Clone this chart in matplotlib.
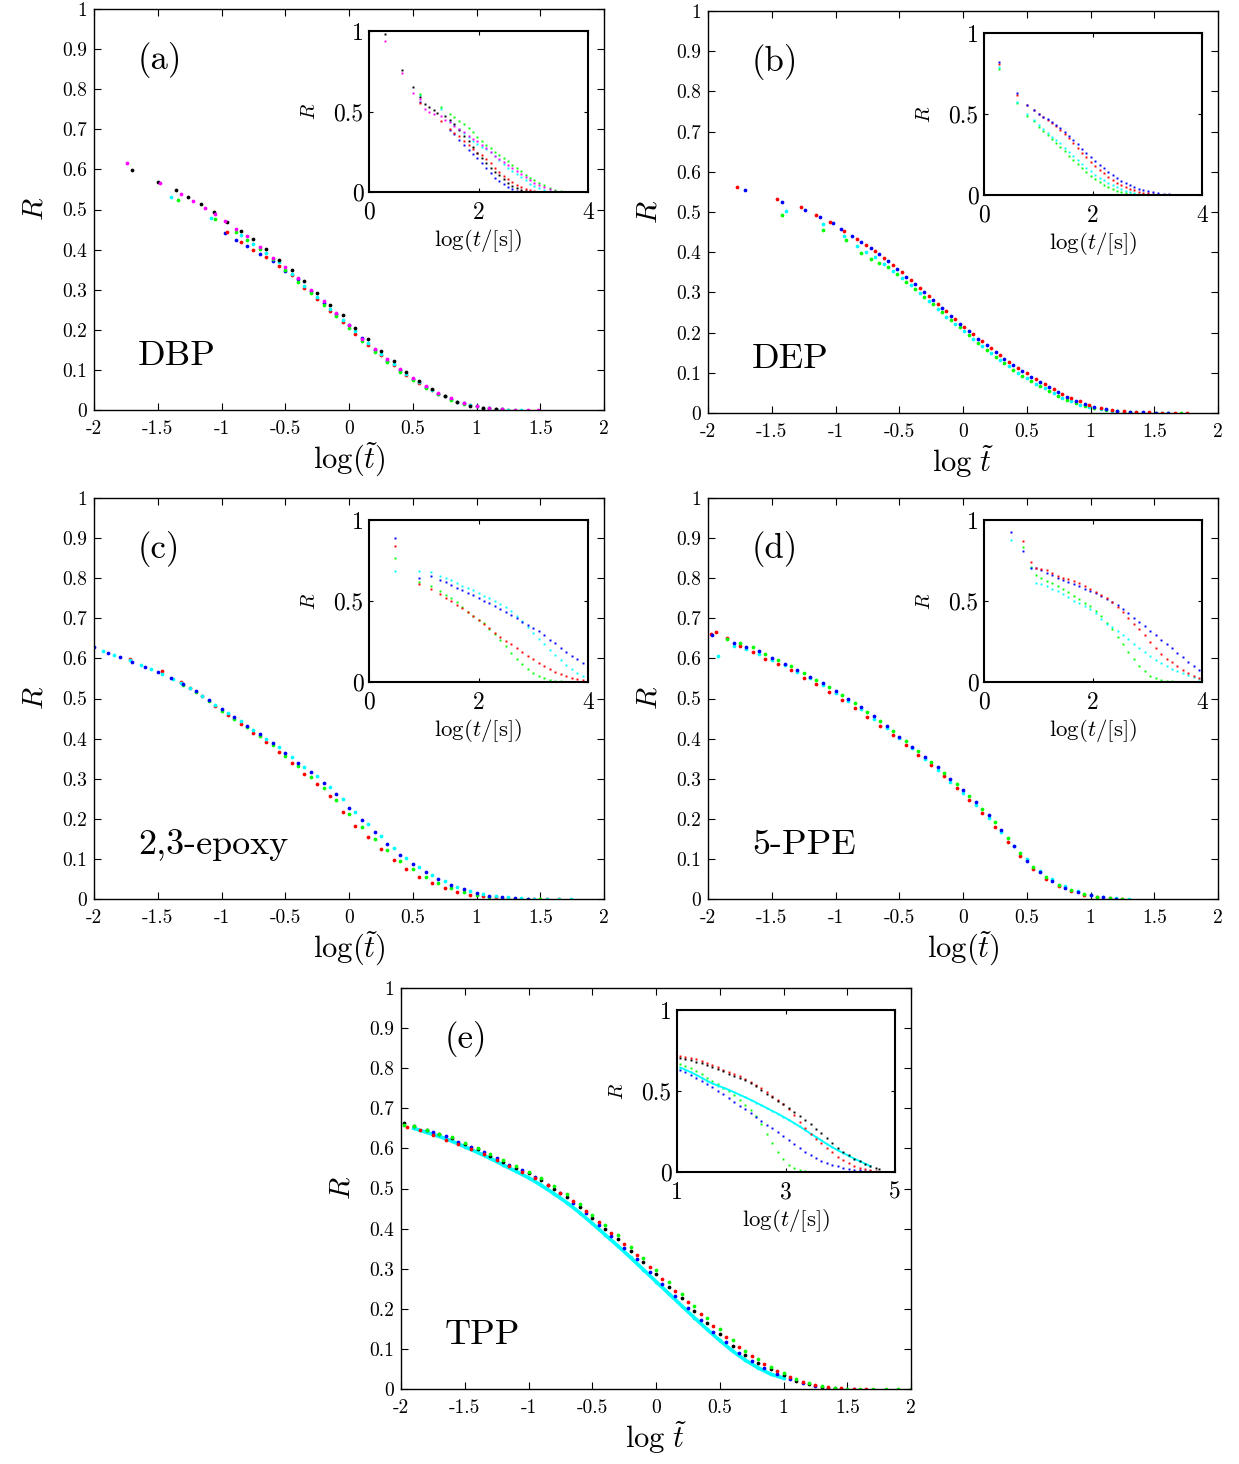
import numpy as np
import matplotlib
matplotlib.use('Agg')
import matplotlib.pyplot as plt
from matplotlib.ticker import FormatStrFormatter

plt.rcParams['font.family'] = 'cmr10'
plt.rcParams['mathtext.fontset'] = 'cm'
plt.rcParams['axes.unicode_minus'] = False
plt.rcParams['axes.formatter.use_mathtext'] = True

nan = np.nan

# ---------------- (a) DBP ----------------
A1 = [-1.70, -1.50, -1.40, -1.36, -1.26, -1.16, -1.08, -1.06, -0.96, -0.85, -0.75, -0.65, -0.55, -0.45, -0.35,
      -0.25, -0.15, -0.05, 0.05, 0.15, 0.25, 0.35, 0.45, 0.55, 0.65, 0.75, 0.85, 0.95, 1.05, 1.15, 1.25, 1.35, 1.45]
a_black = [0.598, 0.568, nan, 0.548, 0.530, 0.514, nan, 0.493, 0.469, 0.447, 0.426, 0.402, 0.375, 0.349, 0.322,
           0.293, 0.262, 0.236, 0.204, 0.176, 0.147, 0.122, 0.096, 0.073, 0.052, 0.036, 0.021, 0.010, 0.004, 0.002, nan, nan, nan]
a_red = [nan, nan, nan, nan, nan, nan, nan, nan, 0.443, 0.418, 0.398, 0.382, 0.358, 0.336, 0.305,
         0.276, 0.248, 0.220, 0.190, 0.162, 0.137, 0.112, 0.088, 0.067, 0.049, 0.034, 0.021, 0.012, 0.006, 0.003, 0.001, nan, nan]
a_cyan = [nan, nan, 0.532, nan, nan, nan, 0.480, nan, nan, 0.437, 0.415, 0.392, 0.369, 0.338, 0.310,
          0.282, 0.253, 0.225, 0.196, 0.167, 0.140, 0.115, 0.091, 0.069, 0.050, 0.034, 0.021, 0.012, 0.006, 0.003, 0.001, 0.0, nan]
A2 = [-1.74, -1.48, -1.34, -1.32, -1.22, -1.13, -1.05, -0.97, -0.89, -0.80, -0.70, -0.60, -0.50, -0.40, -0.30,
      -0.20, -0.10, 0.00, 0.10, 0.20, 0.30, 0.40, 0.50, 0.60, 0.70, 0.80, 0.90, 1.00, 1.10, 1.20, 1.30, 1.40, 1.48]
a_magenta = [0.617, 0.567, nan, 0.538, 0.520, 0.503, 0.489, 0.4725, 0.4525, 0.434, 0.407, 0.380, 0.356, 0.328, 0.300,
             0.272, 0.243, 0.213, 0.178, 0.152, 0.127, 0.102, 0.080, 0.060, 0.043, 0.029, 0.018, 0.010, 0.005, 0.002, 0.001, 0.0, 0.0]
a_green = [nan, nan, 0.523, nan, nan, nan, 0.4775, nan, 0.443, 0.425, 0.402, 0.377, 0.350, 0.320, 0.292,
           0.263, 0.235, 0.205, 0.172, 0.145, 0.119, 0.095, 0.074, 0.055, 0.039, 0.026, 0.016, 0.009, 0.004, 0.002, 0.001, nan, nan]
a_blue = [nan, nan, nan, nan, nan, nan, nan, 0.441, 0.425, 0.408, 0.388, 0.372, 0.347, 0.326, 0.296,
          0.268, 0.240, 0.212, 0.180, 0.150, 0.123, 0.099, 0.077, 0.058, 0.041, 0.027, 0.017, 0.009, 0.004, 0.002, nan, nan, nan]

IA = [0.30, 0.60, 0.80, 0.93, 1.02, 1.10, 1.18, 1.24, 1.31, 1.39, 1.48, 1.56, 1.65, 1.74, 1.82, 1.90, 1.98, 2.06, 2.14, 2.22,
      2.30, 2.38, 2.46, 2.54, 2.62, 2.70, 2.78, 2.86, 2.94, 3.02, 3.10, 3.20, 3.30, 3.40, 3.50, 3.60, 3.70, 3.80, 3.90, 4.00]
ia_black = [0.98, 0.755, 0.651, 0.59, 0.548, 0.531, 0.51, 0.49, nan, 0.473, 0.448, 0.42, 0.385, 0.35, 0.315, 0.28, 0.245, 0.212, 0.18, 0.152,
            0.127, 0.103, 0.08, 0.058, 0.04, 0.025, 0.013, 0.006, 0.002, 0.0, nan, nan, nan, nan, nan, nan, nan, nan, nan, nan]
ia_magenta = [0.94, 0.742, 0.618, 0.575, 0.518, 0.50, 0.485, nan, 0.469, 0.45, 0.432, 0.41, 0.39, 0.37, 0.35, 0.33, 0.315, 0.295, 0.275, 0.25,
              0.225, 0.205, 0.188, 0.17, 0.152, 0.132, 0.112, 0.093, 0.075, 0.058, 0.043, 0.028, 0.016, 0.008, 0.003, 0.001, 0.0, 0.0, 0.0, 0.0]
ia_green = [nan, nan, nan, 0.61, nan, nan, nan, nan, 0.531, nan, 0.485, 0.467, 0.443, 0.42, 0.395, 0.37, 0.34, 0.315, 0.295, 0.273,
            0.25, 0.23, 0.21, 0.19, 0.17, 0.148, 0.128, 0.108, 0.09, 0.074, 0.058, 0.041, 0.025, 0.014, 0.007, 0.003, 0.001, 0.0, 0.0, 0.0]
ia_cyan = [nan, nan, nan, 0.605, nan, nan, nan, nan, 0.515, nan, 0.44, 0.415, 0.39, 0.365, 0.34, 0.318, 0.298, 0.282, 0.266, 0.248,
           0.225, 0.2, 0.175, 0.152, 0.132, 0.11, 0.093, 0.072, 0.052, 0.036, 0.022, 0.01, 0.004, 0.001, 0.0, 0.0, nan, nan, nan, nan]
ia_red = [nan, nan, nan, 0.55, nan, nan, nan, nan, 0.444, nan, 0.39, 0.365, 0.345, 0.314, 0.29, 0.265, 0.243, 0.228, 0.208, 0.18,
          0.152, 0.126, 0.102, 0.082, 0.064, 0.046, 0.032, 0.02, 0.012, 0.006, 0.002, 0.0, 0.0, 0.0, 0.0, nan, nan, nan, nan, nan]
ia_blue = [nan, nan, nan, 0.556, nan, nan, nan, nan, nan, nan, 0.385, 0.36, 0.324, 0.29, 0.262, 0.238, 0.212, 0.18, 0.15, 0.115,
           0.09, 0.068, 0.05, 0.034, 0.018, 0.008, 0.003, 0.001, 0.0, 0.0, nan, nan, nan, nan, nan, nan, nan, nan, nan, nan]

# ---------------- (b) DEP ----------------
B1 = [-1.77, -1.46, -1.39, -1.27, -1.15, -1.10, -1.04, -0.93, -0.83, -0.76, -0.69, -0.62, -0.55, -0.48, -0.41, -0.34, -0.27,
      -0.20, -0.13, -0.06, 0.01, 0.08, 0.15, 0.22, 0.29, 0.36, 0.43, 0.50, 0.57, 0.64, 0.71, 0.78, 0.85, 0.92, 0.99, 1.08,
      1.17, 1.26, 1.36, 1.46, 1.56, 1.66, 1.76]
b_red = [0.561, 0.532, nan, 0.512, 0.493, nan, 0.475, 0.452, 0.432, 0.418, 0.404, 0.386, 0.368, 0.350, 0.331, 0.312, 0.292,
         0.272, 0.253, 0.234, 0.214, 0.196, 0.178, 0.161, 0.144, 0.128, 0.113, 0.099, 0.085, 0.072, 0.060, 0.047, 0.037, 0.029,
         0.021, 0.013, 0.008, 0.005, 0.003, 0.002, 0.001, 0.0, 0.0]
b_cyan = [nan, nan, 0.502, nan, nan, 0.471, nan, 0.4395, 0.415, 0.400, 0.388, 0.370, 0.353, 0.337, 0.318, 0.298, 0.278,
          0.258, 0.239, 0.222, 0.203, 0.184, 0.166, 0.149, 0.132, 0.116, 0.100, 0.086, 0.073, 0.061, 0.049, 0.038, 0.029, 0.021,
          0.014, 0.009, 0.005, 0.003, 0.002, 0.001, 0.0, nan, nan]
B2 = [-1.71, -1.42, -1.24, -1.12, -1.10, -1.02, -0.96, -0.92, -0.87, -0.80, -0.725, -0.655, -0.585, -0.515, -0.445, -0.375,
      -0.305, -0.235, -0.165, -0.095, -0.025, 0.045, 0.115, 0.185, 0.255, 0.325, 0.395, 0.465, 0.535, 0.605, 0.675, 0.745,
      0.815, 0.885, 0.955, 1.03, 1.12, 1.21, 1.31, 1.41, 1.51, 1.61, 1.71]
b_blue = [0.555, 0.525, 0.505, 0.4876, nan, 0.472, 0.4585, nan, 0.440, 0.425, 0.411, 0.395, 0.377, 0.358, 0.339, 0.320,
          0.300, 0.280, 0.261, 0.242, 0.222, 0.203, 0.185, 0.168, 0.151, 0.135, 0.119, 0.104, 0.090, 0.077, 0.064, 0.051,
          0.040, 0.031, 0.023, 0.016, 0.010, 0.006, 0.003, 0.002, 0.001, 0.0, nan]
b_green = [nan, 0.4925, nan, nan, 0.454, nan, nan, 0.4295, nan, 0.397, 0.382, 0.372, 0.362, 0.345, 0.327, 0.308,
           0.289, 0.270, 0.251, 0.232, 0.213, 0.194, 0.175, 0.157, 0.140, 0.124, 0.108, 0.093, 0.079, 0.066, 0.054, 0.043,
           0.033, 0.025, 0.018, 0.012, 0.007, 0.004, 0.002, 0.001, 0.0, 0.0, 0.0]

IB = [0.28, 0.60, 0.79, 0.92, 1.01, 1.09, 1.17, 1.24, 1.32, 1.40, 1.48, 1.56, 1.64, 1.72, 1.80, 1.88, 1.96, 2.04, 2.12, 2.20,
      2.28, 2.36, 2.44, 2.52, 2.60, 2.68, 2.76, 2.84, 2.92, 3.00, 3.10, 3.20, 3.30, 3.40, 3.50, 3.60, 3.70, 3.80, 3.90]
ib_blue = [0.823, 0.628, 0.556, 0.525, 0.50, 0.484, 0.467, 0.450, 0.432, 0.412, 0.39, 0.365, 0.34, 0.312, 0.285, 0.258, 0.232, 0.21, 0.187, 0.165,
           0.143, 0.122, 0.105, 0.089, 0.074, 0.061, 0.05, 0.04, 0.032, 0.025, 0.017, 0.011, 0.007, 0.004, 0.002, 0.001, 0.0, 0.0, 0.0]
ib_red = [0.81, 0.62, 0.553, 0.522, 0.497, 0.48, 0.462, 0.445, 0.425, 0.403, 0.378, 0.35, 0.322, 0.292, 0.262, 0.233, 0.205, 0.178, 0.155, 0.133,
          0.112, 0.093, 0.076, 0.061, 0.048, 0.037, 0.028, 0.02, 0.014, 0.01, 0.006, 0.003, 0.002, 0.001, 0.0, 0.0, 0.0, 0.0, 0.0]
ib_cyan = [0.79, 0.576, 0.498, 0.465, 0.435, 0.407, 0.385, 0.36, 0.34, 0.318, 0.292, 0.267, 0.243, 0.218, 0.19, 0.168, 0.146, 0.126, 0.108, 0.09,
           0.074, 0.06, 0.047, 0.036, 0.027, 0.019, 0.013, 0.009, 0.006, 0.004, 0.002, 0.001, 0.0, 0.0, 0.0, 0.0, nan, nan, nan]
ib_green = [0.78, 0.57, 0.49, 0.455, 0.42, 0.395, 0.37, 0.345, 0.322, 0.297, 0.27, 0.243, 0.217, 0.192, 0.166, 0.14, 0.117, 0.097, 0.078, 0.062,
            0.047, 0.035, 0.025, 0.017, 0.011, 0.007, 0.004, 0.002, 0.001, 0.0, 0.0, 0.0, 0.0, 0.0, nan, nan, nan, nan, nan]

# ---------------- (c) 2,3-epoxy ----------------
C1 = [-2.00, -1.89, -1.80, -1.70, -1.60, -1.50, -1.40, -1.30, -1.20, -1.10, -1.00, -0.90, -0.80, -0.70, -0.60, -0.50, -0.40,
      -0.30, -0.20, -0.10, 0.00, 0.10, 0.20, 0.30, 0.40, 0.50, 0.60, 0.70, 0.80, 0.90, 1.00, 1.10, 1.20, 1.30, 1.40, 1.50, 1.60, 1.70]
c_blue = [0.629, 0.614, 0.604, 0.592, 0.579, 0.566, 0.551, 0.536, 0.519, 0.497, 0.474, 0.453, 0.432, 0.411, 0.389, 0.364, 0.340,
          0.316, 0.290, 0.261, 0.226, 0.196, 0.166, 0.136, 0.110, 0.087, 0.067, 0.050, 0.036, 0.024, 0.015, 0.008, 0.004, 0.002, 0.001, nan, nan, nan]
c_green = [nan, nan, nan, nan, nan, nan, nan, 0.533, 0.516, 0.493, 0.470, 0.449, 0.428, 0.406, 0.383, 0.357, 0.331,
           0.305, 0.278, 0.247, 0.212, 0.180, 0.150, 0.121, 0.096, 0.074, 0.055, 0.039, 0.027, 0.018, 0.011, 0.006, 0.003, 0.001, 0.0, 0.0, nan, nan]
C2 = [-1.93, -1.84, -1.72, -1.63, -1.55, -1.47, -1.38, -1.32, -1.25, -1.15, -1.05, -0.95, -0.85, -0.75, -0.65, -0.55, -0.45,
      -0.35, -0.25, -0.15, -0.05, 0.05, 0.15, 0.25, 0.35, 0.45, 0.55, 0.65, 0.75, 0.85, 0.95, 1.05, 1.15, 1.25, 1.35, 1.45, 1.55, 1.65, 1.74]
c_cyan = [0.619, 0.609, 0.596, 0.584, 0.573, 0.562, 0.548, 0.539, 0.527, 0.506, 0.484, 0.463, 0.443, 0.422, 0.400, 0.378, 0.354,
          0.330, 0.306, 0.280, 0.250, 0.218, 0.186, 0.157, 0.128, 0.102, 0.079, 0.060, 0.044, 0.031, 0.021, 0.013, 0.008, 0.004, 0.002, 0.001, 0.0, 0.0, 0.0]
c_red = [nan, nan, 0.598, nan, nan, 0.569, nan, 0.542, 0.525, 0.505, 0.481, 0.459, 0.437, 0.415, 0.392, 0.366, 0.340,
         0.312, 0.287, 0.258, 0.218, 0.183, 0.155, 0.125, 0.097, 0.074, 0.055, 0.039, 0.027, 0.018, 0.011, 0.007, 0.004, 0.002, 0.001, 0.0, 0.0, 0.0, nan]

IC = [0.47, 0.92, 1.14, 1.29, 1.40, 1.50, 1.60, 1.70, 1.80, 1.90, 2.00, 2.10, 2.20, 2.30, 2.40, 2.50, 2.60, 2.70, 2.80, 2.90,
      3.00, 3.10, 3.20, 3.30, 3.40, 3.50, 3.60, 3.70, 3.80, 3.90, 4.00]
ic_blue = [0.887, 0.639, 0.652, 0.631, 0.615, 0.60, 0.58, 0.565, 0.55, 0.535, 0.518, 0.502, 0.487, 0.47, 0.452, 0.432, 0.412, 0.392, 0.372, 0.352,
           0.332, 0.312, 0.29, 0.262, 0.238, 0.21, 0.186, 0.163, 0.14, 0.12, 0.103]
ic_cyan = [0.685, 0.685, 0.676, 0.656, 0.645, 0.632, 0.612, 0.595, 0.58, 0.565, 0.548, 0.532, 0.518, 0.502, 0.482, 0.46, 0.44, 0.41, 0.375, 0.34,
           0.305, 0.268, 0.232, 0.198, 0.165, 0.135, 0.108, 0.082, 0.058, 0.036, 0.016]
ic_green = [0.763, 0.62, 0.594, 0.563, 0.54, 0.518, 0.492, 0.463, 0.432, 0.405, 0.385, 0.362, 0.33, 0.295, 0.258, 0.22, 0.181, 0.145, 0.11, 0.078,
            0.055, 0.035, 0.022, 0.013, 0.007, 0.004, 0.002, 0.001, 0.0, 0.0, nan]
ic_red = [0.837, 0.602, 0.573, 0.542, 0.52, 0.5, 0.478, 0.455, 0.43, 0.405, 0.385, 0.36, 0.333, 0.305, 0.28, 0.255, 0.232, 0.208, 0.185, 0.162,
          0.14, 0.118, 0.097, 0.079, 0.063, 0.049, 0.037, 0.027, 0.019, 0.013, 0.008]

# ---------------- (d) 5-PPE ----------------
D1 = [-1.98, -1.94, -1.85, -1.75, -1.65, -1.55, -1.45, -1.35, -1.25, -1.15, -1.05, -0.95, -0.85, -0.75, -0.65, -0.55, -0.45,
      -0.35, -0.25, -0.15, -0.05, 0.05, 0.15, 0.25, 0.35, 0.45, 0.55, 0.65, 0.75, 0.85, 0.95, 1.05, 1.15, 1.25]
d_red = [0.662, 0.667, 0.652, 0.630, 0.615, 0.598, 0.585, 0.570, 0.552, 0.535, 0.516, 0.496, 0.476, 0.455, 0.432, 0.408, 0.383,
         0.358, 0.333, 0.306, 0.277, 0.247, 0.215, 0.180, 0.142, 0.106, 0.074, 0.050, 0.032, 0.019, 0.010, 0.005, 0.002, 0.0]
d_green = [nan, nan, 0.649, 0.639, 0.628, 0.612, 0.597, 0.581, 0.564, 0.547, 0.528, 0.509, 0.489, 0.467, 0.444, 0.419, 0.393,
           0.368, 0.342, 0.314, 0.286, 0.256, 0.225, 0.191, 0.153, 0.115, 0.081, 0.055, 0.035, 0.022, 0.013, 0.006, 0.002, 0.0]
D2 = [-1.97, -1.92, -1.90, -1.80, -1.70, -1.60, -1.50, -1.40, -1.30, -1.20, -1.10, -1.00, -0.90, -0.80, -0.70, -0.60, -0.50,
      -0.40, -0.30, -0.20, -0.10, 0.00, 0.10, 0.20, 0.30, 0.40, 0.50, 0.60, 0.70, 0.80, 0.90, 1.00, 1.10, 1.20, 1.30]
d_blue = [0.658, nan, nan, 0.638, 0.629, 0.618, 0.602, 0.587, 0.571, 0.554, 0.538, 0.518, 0.499, 0.479, 0.456, 0.432, 0.405,
          0.380, 0.355, 0.328, 0.300, 0.271, 0.241, 0.209, 0.173, 0.133, 0.096, 0.067, 0.044, 0.028, 0.017, 0.009, 0.004, 0.001, nan]
d_cyan = [nan, 0.606, nan, 0.632, 0.624, 0.610, 0.597, 0.583, 0.567, 0.550, 0.533, 0.513, 0.494, 0.473, 0.450, 0.426, 0.401,
          0.376, 0.350, 0.322, 0.293, 0.264, 0.234, 0.202, 0.168, 0.132, 0.099, 0.071, 0.049, 0.032, 0.019, 0.010, 0.005, 0.002, 0.0]

ID = [0.50, 0.71, 0.86, 0.95, 1.05, 1.15, 1.25, 1.35, 1.45, 1.55, 1.65, 1.75, 1.85, 1.95, 2.05, 2.15, 2.25, 2.35, 2.45, 2.55,
      2.65, 2.75, 2.85, 2.95, 3.05, 3.15, 3.25, 3.35, 3.45, 3.55, 3.65, 3.75, 3.85, 3.95, 4.00]
id_red = [nan, 0.868, 0.742, 0.701, 0.70, 0.69, 0.675, 0.655, 0.645, 0.635, 0.622, 0.61, 0.59, 0.573, 0.555, 0.54, 0.52, 0.495, 0.465, 0.43,
          0.395, 0.36, 0.325, 0.29, 0.25, 0.21, 0.17, 0.145, 0.125, 0.1, 0.077, 0.057, 0.04, 0.022, 0.015]
id_blue = [0.928, 0.806, 0.705, 0.701, 0.69, 0.675, 0.66, 0.645, 0.63, 0.618, 0.605, 0.59, 0.575, 0.563, 0.548, 0.532, 0.515, 0.495, 0.473, 0.45,
           0.425, 0.398, 0.37, 0.343, 0.315, 0.29, 0.262, 0.235, 0.208, 0.18, 0.152, 0.125, 0.098, 0.072, 0.058]
id_green = [nan, 0.835, 0.71, 0.66, 0.645, 0.625, 0.61, 0.594, 0.575, 0.553, 0.532, 0.51, 0.49, 0.47, 0.44, 0.405, 0.367, 0.325, 0.28, 0.232,
            0.184, 0.14, 0.097, 0.065, 0.04, 0.024, 0.014, 0.008, 0.004, 0.002, 0.001, 0.0, 0.0, 0.0, nan]
id_cyan = [0.878, nan, 0.705, 0.61, 0.604, 0.59, 0.575, 0.563, 0.545, 0.525, 0.502, 0.485, 0.468, 0.45, 0.425, 0.39, 0.357, 0.338, 0.315, 0.29,
           0.263, 0.236, 0.21, 0.185, 0.16, 0.137, 0.115, 0.097, 0.082, 0.069, 0.056, 0.043, 0.031, 0.018, 0.012]

# ---------------- (e) TPP ----------------
E1 = [-1.98, -1.90, -1.80, -1.70, -1.60, -1.50, -1.40, -1.30, -1.20, -1.10, -1.00, -0.90, -0.80, -0.70, -0.60, -0.50, -0.40,
      -0.30, -0.20, -0.10, 0.00, 0.10, 0.20, 0.30, 0.40, 0.50, 0.60, 0.70, 0.80, 0.90, 1.00, 1.10, 1.20, 1.30, 1.40, 1.50,
      1.60, 1.70, 1.80, 1.90, 2.00]
e_black = [0.664, 0.656, 0.647, 0.637, 0.627, 0.611, 0.598, 0.582, 0.567, 0.551, 0.538, 0.52, 0.499, 0.48, 0.454, 0.426, 0.399,
           0.373, 0.344, 0.316, 0.286, 0.254, 0.226, 0.194, 0.164, 0.136, 0.108, 0.084, 0.066, 0.051, 0.035, 0.021, 0.012, 0.006,
           0.003, nan, nan, nan, nan, nan, nan]
e_green = [0.658, 0.655, 0.646, 0.636, 0.628, 0.614, 0.601, 0.586, 0.571, 0.556, 0.542, 0.525, 0.505, 0.486, 0.462, 0.435, 0.409,
           0.383, 0.355, 0.327, 0.298, 0.268, 0.238, 0.208, 0.178, 0.149, 0.121, 0.096, 0.075, 0.056, 0.040, 0.025, 0.014, 0.007,
           0.003, 0.001, 0.0, 0.0, 0.0, 0.0, 0.0]
e_cyan = [nan, 0.650, 0.640, 0.630, 0.618, 0.604, 0.590, 0.575, 0.559, 0.543, 0.527, 0.508, 0.487, 0.465, 0.440, 0.413, 0.385,
          0.357, 0.328, 0.298, 0.268, 0.238, 0.208, 0.178, 0.149, 0.121, 0.095, 0.072, 0.053, 0.037, 0.027, nan, nan, nan,
          nan, nan, nan, nan, nan, nan, nan]
E2 = [-1.95, -1.85, -1.75, -1.65, -1.55, -1.45, -1.35, -1.25, -1.15, -1.05, -0.95, -0.85, -0.75, -0.65, -0.55, -0.45, -0.35,
      -0.25, -0.15, -0.05, 0.05, 0.15, 0.25, 0.35, 0.45, 0.55, 0.65, 0.75, 0.85, 0.95, 1.05, 1.15, 1.25, 1.35, 1.45, 1.55,
      1.65, 1.75, 1.85, 1.95]
e_red = [0.654, 0.645, 0.633, 0.622, 0.610, 0.598, 0.586, 0.570, 0.555, 0.541, 0.525, 0.508, 0.490, 0.468, 0.443, 0.416, 0.389,
         0.361, 0.333, 0.305, 0.275, 0.245, 0.216, 0.186, 0.158, 0.130, 0.104, 0.082, 0.063, 0.046, 0.030, 0.018, 0.009, 0.004,
         0.002, 0.0, 0.0, nan, nan, nan]
e_blue = [nan, nan, 0.640, 0.630, 0.616, 0.603, 0.590, 0.575, 0.559, 0.545, 0.528, 0.509, 0.489, 0.465, 0.438, 0.410, 0.382,
          0.352, 0.323, 0.293, 0.262, 0.232, 0.202, 0.172, 0.143, 0.116, 0.091, 0.070, 0.053, 0.037, 0.024, 0.014, 0.007, 0.003,
          0.001, 0.0, nan, nan, nan, nan]

IE = [1.06, 1.15, 1.25, 1.35, 1.45, 1.55, 1.65, 1.75, 1.85, 1.95, 2.05, 2.15, 2.25, 2.35, 2.45, 2.55, 2.65, 2.75, 2.85, 2.95,
      3.05, 3.15, 3.25, 3.35, 3.45, 3.55, 3.65, 3.75, 3.85, 3.95, 4.05, 4.15, 4.25, 4.35, 4.45, 4.55, 4.65, 4.70]
ie_red = [0.718, 0.712, 0.704, 0.695, 0.684, 0.671, 0.659, 0.646, 0.632, 0.618, 0.604, 0.59, 0.575, 0.557, 0.538, 0.52, 0.495, 0.47, 0.445, 0.42,
          0.39, 0.35, 0.31, 0.272, 0.236, 0.205, 0.178, 0.148, 0.122, 0.095, 0.072, 0.053, 0.038, 0.026, 0.017, 0.01, 0.005, 0.003]
ie_black = [0.701, 0.695, 0.689, 0.68, 0.67, 0.659, 0.647, 0.634, 0.621, 0.608, 0.595, 0.582, 0.567, 0.55, 0.529, 0.506, 0.482, 0.46, 0.44, 0.418,
            0.395, 0.37, 0.344, 0.318, 0.295, 0.268, 0.24, 0.207, 0.177, 0.149, 0.125, 0.102, 0.083, 0.066, 0.048, 0.034, 0.023, 0.018]
ie_green = [0.666, 0.655, 0.641, 0.624, 0.603, 0.581, 0.561, 0.541, 0.521, 0.501, 0.473, 0.447, 0.415, 0.38, 0.345, 0.295, 0.235, 0.18, 0.125, 0.08,
            0.045, 0.022, 0.01, 0.004, 0.002, 0.001, 0.0, 0.0, 0.0, 0.0, 0.0, 0.0, 0.0, nan, nan, nan, nan, nan]
ie_cyan = [0.645, 0.632, 0.617, 0.6, 0.582, 0.563, 0.547, 0.533, 0.521, 0.507, 0.492, 0.477, 0.462, 0.446, 0.429, 0.412, 0.394, 0.377, 0.36, 0.341,
           0.322, 0.302, 0.281, 0.259, 0.237, 0.216, 0.195, 0.173, 0.153, 0.134, 0.117, 0.1, 0.083, 0.067, 0.052, 0.036, nan, nan]
ie_blue = [0.631, 0.617, 0.601, 0.583, 0.564, 0.544, 0.523, 0.502, 0.481, 0.459, 0.435, 0.41, 0.386, 0.363, 0.34, 0.316, 0.293, 0.269, 0.245, 0.221,
           0.197, 0.173, 0.149, 0.125, 0.103, 0.085, 0.07, 0.057, 0.046, 0.036, 0.027, 0.02, 0.015, 0.011, 0.008, 0.005, 0.003, nan]

col = {'k': '#000000', 'm': '#ff00ff', 'r': '#ff0000', 'b': '#0000ff', 'g': '#00ff00', 'c': '#00ffff'}

W, H = 1239, 1464


def frac(l, t, r, b):
    # pixel box -> figure fraction
    return [l / W, 1 - b / H, (r - l) / W, (b - t) / H]


panels = [
    dict(rect=frac(94, 9, 604, 410), irect=frac(369, 31, 588, 192),
         main=[(A2, a_blue, 'b'), (A1, a_red, 'r'), (A1, a_cyan, 'c'), (A2, a_green, 'g'), (A1, a_black, 'k'), (A2, a_magenta, 'm')],
         ins=[(IA, ia_blue, 'b'), (IA, ia_red, 'r'), (IA, ia_cyan, 'c'), (IA, ia_green, 'g'), (IA, ia_black, 'k'), (IA, ia_magenta, 'm')],
         xlabel=r'$\log(\tilde{t})$', tag='(a)', name='DBP', ixlim=(0, 4), ixt=[0, 2, 4], line=None, iline=None),
    dict(rect=frac(708, 11, 1218, 413), irect=frac(984, 33, 1202, 195),
         main=[(B2, b_green, 'g'), (B1, b_cyan, 'c'), (B2, b_blue, 'b'), (B1, b_red, 'r')],
         ins=[(IB, ib_green, 'g'), (IB, ib_cyan, 'c'), (IB, ib_red, 'r'), (IB, ib_blue, 'b')],
         xlabel=r'$\log\,\tilde{t}$', tag='(b)', name='DEP', ixlim=(0, 4), ixt=[0, 2, 4], line=None, iline=None),
    dict(rect=frac(94, 498, 604, 899), irect=frac(369, 520, 588, 682),
         main=[(C2, c_red, 'r'), (C1, c_green, 'g'), (C2, c_cyan, 'c'), (C1, c_blue, 'b')],
         ins=[(IC, ic_green, 'g'), (IC, ic_red, 'r'), (IC, ic_cyan, 'c'), (IC, ic_blue, 'b')],
         xlabel=r'$\log(\tilde{t})$', tag='(c)', name='2,3-epoxy', ixlim=(0, 4), ixt=[0, 2, 4], line=None, iline=None),
    dict(rect=frac(708, 498, 1218, 899), irect=frac(984, 520, 1202, 682),
         main=[(D2, d_cyan, 'c'), (D1, d_red, 'r'), (D1, d_green, 'g'), (D2, d_blue, 'b')],
         ins=[(ID, id_green, 'g'), (ID, id_cyan, 'c'), (ID, id_blue, 'b'), (ID, id_red, 'r')],
         xlabel=r'$\log(\tilde{t})$', tag='(d)', name='5-PPE', ixlim=(0, 4), ixt=[0, 2, 4], line=None, iline=None),
    dict(rect=frac(401, 988, 911, 1389), irect=frac(677, 1010, 895, 1172),
         main=[(E1, e_cyan, 'c'), (E2, e_blue, 'b'), (E1, e_black, 'k'), (E2, e_red, 'r'), (E1, e_green, 'g')],
         ins=[(IE, ie_green, 'g'), (IE, ie_blue, 'b'), (IE, ie_cyan, 'c'), (IE, ie_red, 'r'), (IE, ie_black, 'k')],
         xlabel=r'$\log\,\tilde{t}$', tag='(e)', name='TPP', ixlim=(1, 5), ixt=[1, 3, 5], line='c', iline='c'),
]

fig = plt.figure(figsize=(W / 100, H / 100), dpi=100)

for p in panels:
    ax = fig.add_axes(p['rect'])
    for x, y, c in p['main']:
        if c == p['line']:
            ax.plot(x, y, '-', color=col[c], lw=2.6)
        ax.plot(x, y, 'o', color=col[c], ms=2.7, mec='none')
    ax.set_xlim(-2, 2)
    ax.set_ylim(0, 1)
    ax.set_xticks([-2, -1.5, -1, -0.5, 0, 0.5, 1, 1.5, 2])
    ax.set_yticks([0, 0.1, 0.2, 0.3, 0.4, 0.5, 0.6, 0.7, 0.8, 0.9, 1])
    ax.xaxis.set_major_formatter(FormatStrFormatter('%g'))
    ax.yaxis.set_major_formatter(FormatStrFormatter('%g'))
    ax.tick_params(direction='in', top=True, right=True, length=5, width=0.8, labelsize=14)
    ax.tick_params(axis='x', pad=7)
    ax.tick_params(axis='y', pad=5)
    for s in ax.spines.values():
        s.set_linewidth(1.0)
    ax.set_xlabel(p['xlabel'], fontsize=22, labelpad=2)
    ax.set_ylabel(r'$R$', fontsize=21, labelpad=10)
    ax.text(0.086, 0.873, p['tag'], transform=ax.transAxes, fontsize=25, va='center', ha='left')
    ax.text(0.086, 0.135, p['name'], transform=ax.transAxes, fontsize=26, va='center', ha='left')

    ai = fig.add_axes(p['irect'])
    for x, y, c in p['ins']:
        if c == p['iline']:
            ai.plot(x, y, '-', color=col[c], lw=1.3)
        ai.plot(x, y, 's', color=col[c], ms=1.4, mec='none')
    ai.set_xlim(*p['ixlim'])
    ai.set_ylim(0, 1)
    ai.set_xticks(p['ixt'])
    ai.set_yticks([0, 0.5, 1])
    ai.xaxis.set_major_formatter(FormatStrFormatter('%g'))
    ai.yaxis.set_major_formatter(FormatStrFormatter('%g'))
    ai.tick_params(direction='in', top=True, right=True, length=3, width=0.8, labelsize=17)
    ai.tick_params(axis='x', pad=7)
    ai.tick_params(axis='y', pad=4)
    for s in ai.spines.values():
        s.set_linewidth(1.5)
    ai.set_xlabel(r'$\log(t/[\mathrm{s}])$', fontsize=16.5, labelpad=2)
    ai.set_ylabel(r'$R$', fontsize=14.5, labelpad=10)

fig.savefig('out.png', dpi=100)
